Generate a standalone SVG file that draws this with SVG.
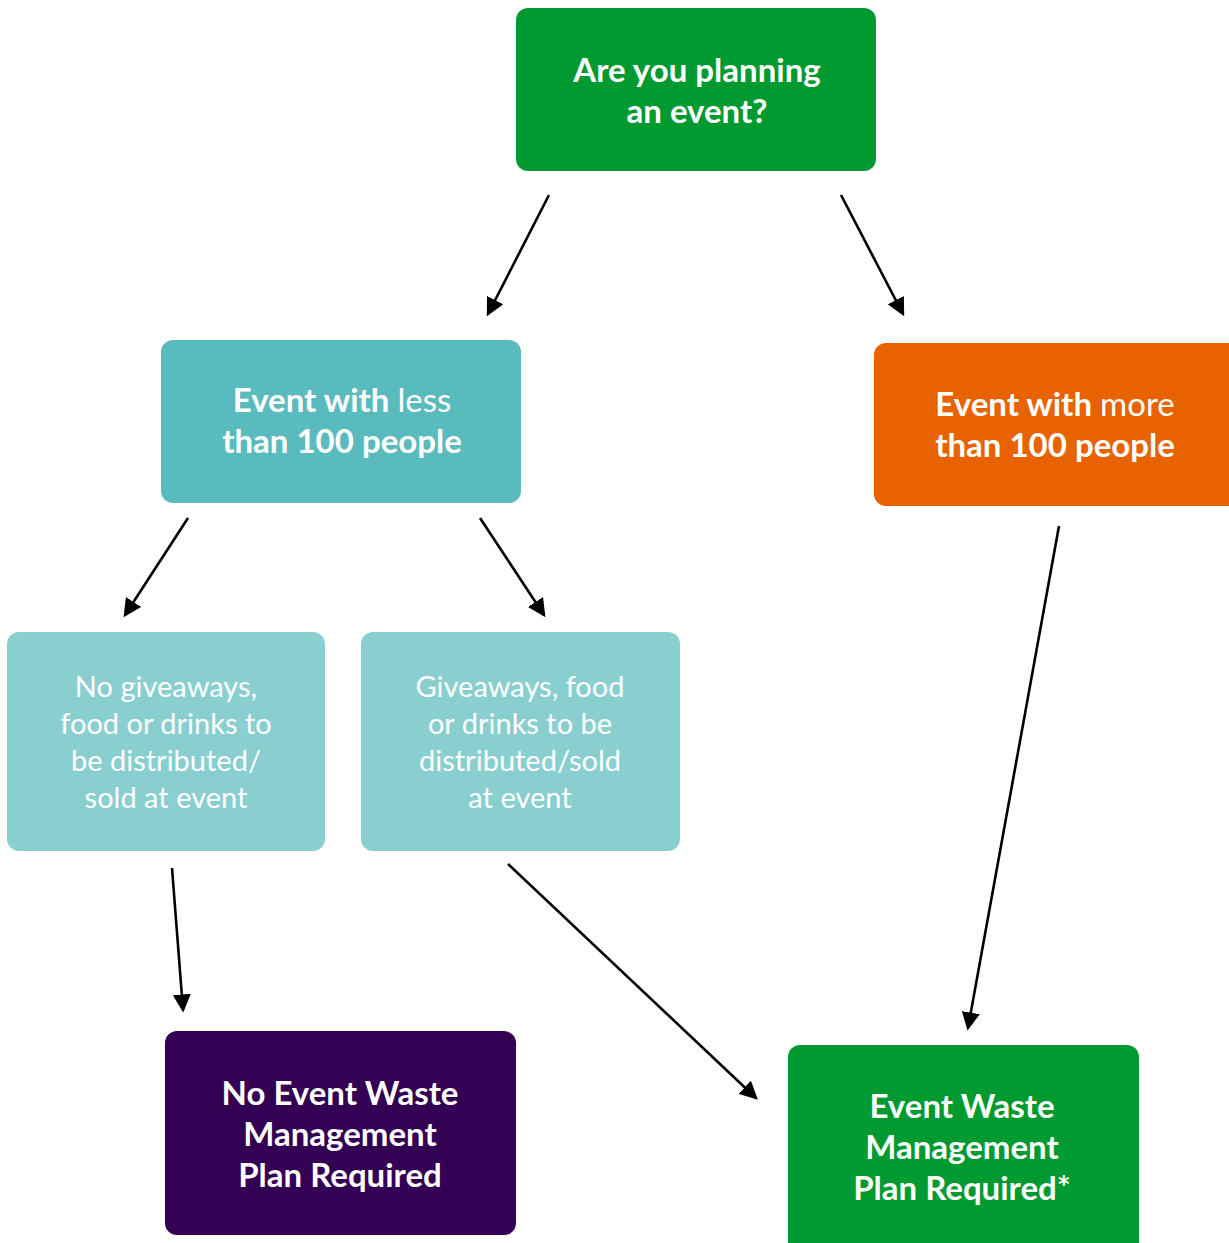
<svg xmlns="http://www.w3.org/2000/svg" width="1229" height="1243" viewBox="0 0 1229 1243">
<defs>
<marker id="ah" markerWidth="7" markerHeight="7" refX="6" refY="3.5" orient="auto" markerUnits="strokeWidth">
<path d="M0,0 L7,3.5 L0,7 z" fill="#000"/>
</marker>
<style>
.t{font-family:Lato,"Source Sans Pro","Open Sans",sans-serif;fill:#fff;text-anchor:middle}
.b{font-weight:bold;font-size:33px}
.n{font-weight:normal;font-size:29px}
.c{stroke:#000;stroke-width:2.6;fill:none;marker-end:url(#ah)}
</style>
</defs>
<rect width="1229" height="1243" fill="#fff"/>
<g id="connectors">
<line class="c" x1="549" y1="195" x2="488" y2="314"/>
<line class="c" x1="841" y1="195" x2="903" y2="314"/>
<line class="c" x1="188" y1="518" x2="125" y2="615"/>
<line class="c" x1="480" y1="518" x2="544" y2="615"/>
<line class="c" x1="1059" y1="526" x2="968" y2="1028"/>
<line class="c" x1="172" y1="868" x2="183" y2="1010"/>
<line class="c" x1="508" y1="864" x2="756" y2="1098"/>
</g>
<g id="start">
<rect x="516" y="8" width="360" height="163" rx="12" fill="#009a31"/>
<text class="t b" x="697" y="82">Are you planning</text>
<text class="t b" x="697" y="123">an event?</text>
</g>
<g id="less">
<rect x="161" y="340" width="360" height="163" rx="12" fill="#5abbbe"/>
<text class="t b" x="342" y="412">Event with <tspan font-weight="normal">less</tspan></text>
<text class="t b" x="342" y="453">than 100 people</text>
</g>
<g id="more">
<rect x="874" y="343" width="370" height="163" rx="12" fill="#e86300"/>
<text class="t b" x="1055" y="416">Event with <tspan font-weight="normal">more</tspan></text>
<text class="t b" x="1055" y="457">than 100 people</text>
</g>
<g id="nogive">
<rect x="7" y="632" width="318" height="219" rx="12" fill="#8acfcf"/>
<text class="t n" x="166" y="697">No giveaways,</text>
<text class="t n" x="166" y="734">food or drinks to</text>
<text class="t n" x="166" y="771">be distributed/</text>
<text class="t n" x="166" y="808">sold at event</text>
</g>
<g id="give">
<rect x="361" y="632" width="319" height="219" rx="12" fill="#8acfcf"/>
<text class="t n" x="520" y="697">Giveaways, food</text>
<text class="t n" x="520" y="734">or drinks to be</text>
<text class="t n" x="520" y="771">distributed/sold</text>
<text class="t n" x="520" y="808">at event</text>
</g>
<g id="noplan">
<rect x="165" y="1031" width="351" height="204" rx="12" fill="#330053"/>
<text class="t b" x="340" y="1105">No Event Waste</text>
<text class="t b" x="340" y="1146">Management</text>
<text class="t b" x="340" y="1187">Plan Required</text>
</g>
<g id="plan">
<rect x="788" y="1045" width="351" height="210" rx="12" fill="#009a31"/>
<text class="t b" x="962" y="1118">Event Waste</text>
<text class="t b" x="962" y="1159">Management</text>
<text class="t b" x="962" y="1200">Plan Required*</text>
</g>
</svg>
